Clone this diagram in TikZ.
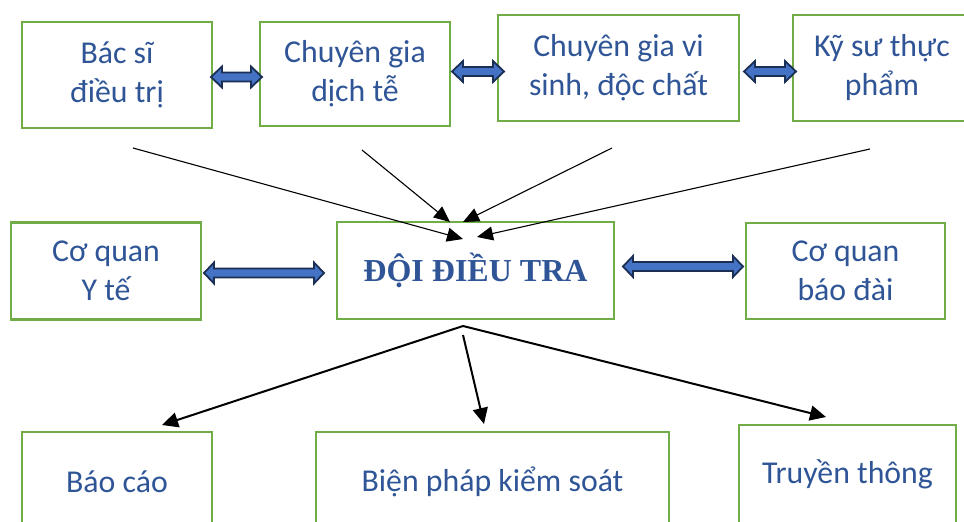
\documentclass[tikz,border=0pt]{standalone}
\usepackage{fontspec}
\setmainfont{Carlito}
\newfontfamily\timesbold{Liberation Serif}
\usetikzlibrary{arrows.meta,calc}
\definecolor{boxgreen}{HTML}{70AD47}
\definecolor{txtblue}{HTML}{2F5597}
\definecolor{arrfill}{HTML}{4472C4}
\definecolor{arrline}{HTML}{1B2F55}
\tikzset{
  box/.style={draw=boxgreen, line width=2.6pt, fill=white, text=txtblue,
    align=center, inner sep=0pt, font=\fontsize{31.8}{39}\selectfont},
  thinarr/.style={draw=black, line width=1.1pt, -{Triangle[length=16pt,width=14pt]}},
  thickarr/.style={draw=black, line width=2pt, -{Triangle[length=16pt,width=15pt]}},
  dblarrow/.style={draw=arrline, fill=arrfill, line width=1.8pt, line join=miter,
    to path={let \p1=(\tikztostart), \p2=(\tikztotarget) in
      (\x1,\y1) -- (\x1+#1,\y1+10.5pt) -- (\x1+#1,\y1+4.5pt) -- (\x2-#1,\y1+4.5pt)
      -- (\x2-#1,\y1+10.5pt) -- (\x2,\y1) -- (\x2-#1,\y1-10.5pt) -- (\x2-#1,\y1-4.5pt)
      -- (\x1+#1,\y1-4.5pt) -- (\x1+#1,\y1-10.5pt) -- cycle}},
  dblarrow/.default=11pt
}
\begin{document}
\begin{tikzpicture}[x=1pt,y=-1pt]
\useasboundingbox (0,0) rectangle (964,522);
\clip (0,0) rectangle (964,522);
% boxes
\node[box, minimum width=190pt, minimum height=106pt] (b1) at (117,75) {Bác sĩ\\điều trị};
\node[box, minimum width=190pt, minimum height=104pt] (b2) at (355,74) {Chuyên gia\\dịch tễ};
\node[box, minimum width=241pt, minimum height=106pt] (b3) at (618.5,68) {Chuyên gia vi\\sinh, độc chất};
\node[box, minimum width=178pt, minimum height=106pt] (b4) at (882,68) {Kỹ sư thực\\phẩm};
\node[box, minimum width=190pt, minimum height=97pt] (b5) at (106,271) {Cơ quan\\Y tế};
\node[box, minimum width=277pt, minimum height=97pt, font=\timesbold\bfseries\fontsize{32}{38}\selectfont] (b6) at (475.5,270.5) {ĐỘI ĐIỀU TRA};
\node[box, minimum width=199pt, minimum height=96pt] (b7) at (845.5,271) {Cơ quan\\báo đài};
\node[box, minimum width=190pt, minimum height=100pt] (b8) at (117,482) {Báo cáo};
\node[box, minimum width=353pt, minimum height=100pt] (b9) at (492.5,482) {Biện pháp kiểm soát};
\node[box, minimum width=217pt, minimum height=98pt] (b10) at (847.5,474) {Truyền thông};
% double arrows
\coordinate (d1a) at (211,77);   \coordinate (d1b) at (262,77);
\coordinate (d2a) at (452,71.5); \coordinate (d2b) at (504,71.5);
\coordinate (d3a) at (744,71.5); \coordinate (d3b) at (796,71.5);
\coordinate (d4a) at (204,273);  \coordinate (d4b) at (324,273);
\coordinate (d5a) at (623,266.5);\coordinate (d5b) at (743,266.5);
\path[dblarrow] (d1a) to (d1b);
\path[dblarrow] (d2a) to (d2b);
\path[dblarrow] (d3a) to (d3b);
\path[dblarrow=10pt] (d4a) to (d4b);
\path[dblarrow=10pt] (d5a) to (d5b);
% converging arrows
\coordinate (s1) at (133,148); \coordinate (t1) at (463,239);
\coordinate (s2) at (362,150); \coordinate (t2) at (450,222);
\coordinate (s3) at (612,148); \coordinate (t3) at (463,222);
\coordinate (s4) at (870,149); \coordinate (t4) at (477,237);
\draw[thinarr] (s1) -- (t1);
\draw[thinarr] (s2) -- (t2);
\draw[thinarr] (s3) -- (t3);
\draw[thinarr] (s4) -- (t4);
% diverging arrows
\coordinate (o) at (463,326);
\coordinate (o2) at (463,335);
\coordinate (e1) at (162,425);
\coordinate (e2) at (484,424);
\coordinate (e3) at (826,417);
\draw[thickarr] (o) -- (e1);
\draw[thickarr] (o2) -- (e2);
\draw[thickarr] (o) -- (e3);
\end{tikzpicture}
\end{document}
